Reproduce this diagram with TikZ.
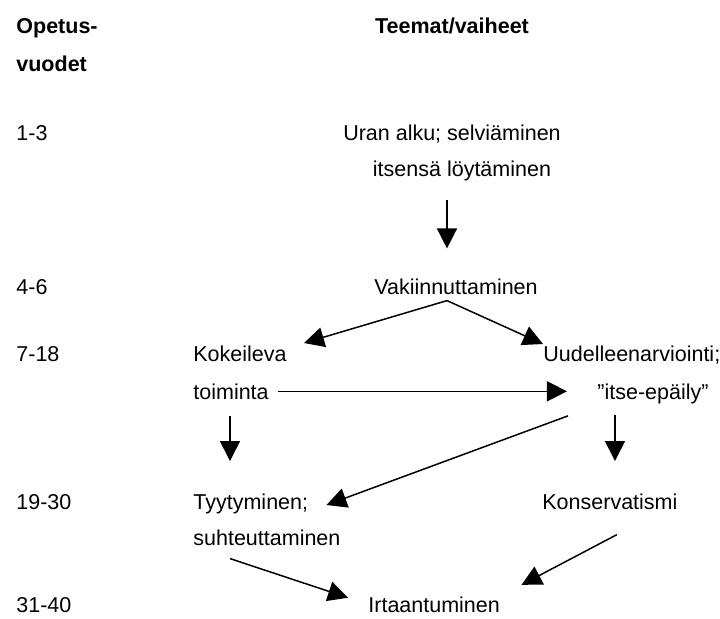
\documentclass[tikz,border=0pt]{standalone}
\usepackage{fontspec}
\setmainfont{Liberation Sans}
\usetikzlibrary{arrows.meta}

\begin{document}
\begin{tikzpicture}[x=0.5pt,y=-0.5pt,
		every node/.style={inner sep=0pt,anchor=base west,font=\fontsize{10.75}{13}\selectfont},
		otsikko/.style={font=\fontsize{10.75}{13}\selectfont\bfseries},
		keski/.style={anchor=base},
		nuoli/.style={-{Triangle[length=10pt,width=10pt]},line width=0.75pt}]
		\useasboundingbox (0,0) rectangle (720,618);
		% otsikot
		\node[otsikko] (ope1) at (16,33) {Opetus-};
		\node[otsikko] (ope2) at (16,71) {vuodet};
		\node[otsikko,keski] (teemat) at (452,33) {Teemat/vaiheet};
		% opetusvuodet
		\node (v1) at (16,140) {1-3};
		\node (v2) at (16,294) {4-6};
		\node (v3) at (16,361) {7-18};
		\node (v4) at (16,509) {19-30};
		\node (v5) at (16,612) {31-40};
		% vaiheet
		\node[keski] (uran1) at (452,140) {Uran alku; selviäminen};
		\node[keski] (uran2) at (462,176) {itsensä löytäminen};
		\node[keski] (vak) at (456,294) {Vakiinnuttaminen};
		\node (kok1) at (193,361) {Kokeileva};
		\node (kok2) at (193,399) {toiminta};
		\node (uud1) at (543,361) {Uudelleenarviointi;};
		\node (uud2) at (597,399) {"itse-epäily"};
		\node (tyy1) at (193,509) {Tyytyminen;};
		\node (tyy2) at (193,545) {suhteuttaminen};
		\node (kon) at (542,509) {Konservatismi};
		\node (irt) at (368,612) {Irtaantuminen};

		\draw[nuoli,shorten <=9.75pt,shorten >=14.8pt] ([xshift=-7.5pt]uran2.south) -- ([xshift=-7.5pt]uran2.south |- vak.north);
		\draw[nuoli] ([xshift=-4.5pt,yshift=-3pt]vak.south) -- ([xshift=8.5pt,yshift=1pt]kok1.north east);
		\draw[nuoli] ([xshift=-4.5pt,yshift=-3pt]vak.south) -- ([yshift=0.5pt]uud1.north west);
		\draw[nuoli,shorten <=4.5pt,shorten >=15pt] (kok2.east) -- (kok2.east -| uud2.west);
		\draw[nuoli,shorten <=8pt,shorten >=16pt] ([xshift=18.5pt]kok2.south west) -- ([xshift=18.5pt]tyy1.north west);
		\draw[nuoli,shorten <=5.5pt,shorten >=16pt] ([xshift=9pt]uud2.south west) -- ([xshift=9pt]uud2.south west |- kon.north);
		\draw[nuoli] ([xshift=-14.5pt,yshift=-6pt]uud2.south west) -- ([xshift=9pt,yshift=2pt]tyy1.base east);
		\draw[nuoli,shorten >=10.5pt] ([xshift=18.5pt,yshift=-6.5pt]tyy2.south west) -- (irt.west);
		\draw[nuoli,shorten >=12pt] ([xshift=3.5pt,yshift=-12.5pt]kon.south) -- (irt.north east);
\end{tikzpicture}
\end{document}
